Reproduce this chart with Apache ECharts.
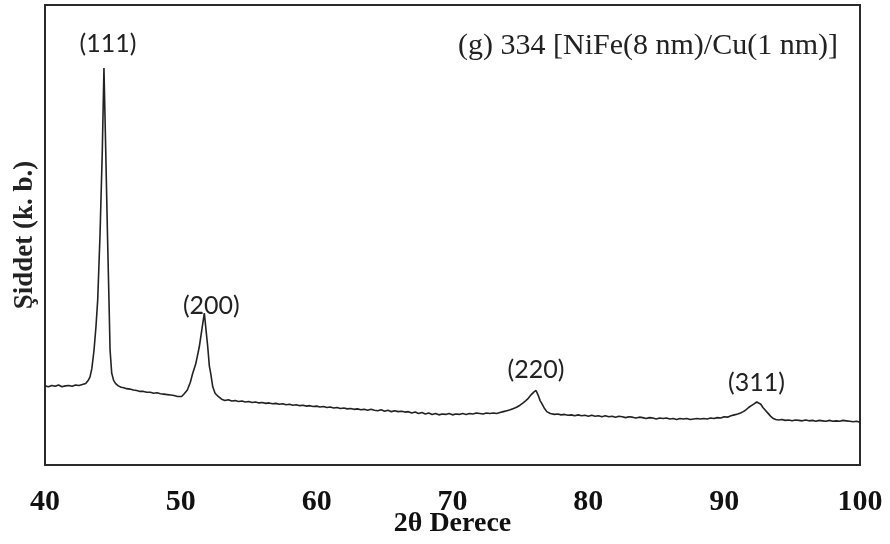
<!DOCTYPE html>
<html>
<head>
<meta charset="utf-8">
<script src="https://cdn.jsdelivr.net/npm/echarts@6/dist/echarts.min.js"></script>
<style>
  html, body { margin: 0; padding: 0; background: #fff; }
  #main { width: 890px; height: 544px; }
</style>
</head>
<body>
<div id="main"></div>
<script>
// 2theta (degrees) vs intensity (arbitrary units)
var xrdScan = [
    [40.0,17.2],[40.25,17.0],[40.5,17.3],[40.75,17.1],[41.0,17.4],[41.25,17.0],[41.5,17.2],[41.75,17.3],
    [42.0,17.1],[42.25,17.4],[42.5,17.3],[42.75,17.5],[43.0,17.7],[43.1,18.0],[43.2,18.5],[43.31,19.1],
    [43.45,21.0],[43.61,25.0],[43.75,30.0],[43.88,35.9],[44.05,50.0],[44.22,68.5],[44.34,86.3],[44.47,68.5],
    [44.6,50.0],[44.71,35.9],[44.79,25.0],[44.91,20.0],[45.05,18.4],[45.2,17.7],[45.4,17.2],[45.6,16.9],
    [45.8,16.8],[46.0,16.6],[46.25,16.5],[46.5,16.3],[46.75,16.2],[47.0,16.0],[47.25,16.0],[47.5,15.8],
    [47.75,15.8],[48.0,15.6],[48.25,15.7],[48.5,15.5],[48.75,15.4],[49.0,15.3],[49.25,15.2],[49.5,15.1],
    [49.75,14.9],[50.06,14.9],[50.25,15.5],[50.48,16.3],[50.7,18.0],[50.87,19.9],[51.1,22.0],[51.36,25.7],
    [51.55,29.5],[51.73,33.0],[51.85,29.5],[51.98,25.7],[52.1,21.5],[52.2,19.9],[52.35,17.0],[52.52,15.6],
    [52.75,14.9],[53.0,14.3],[53.25,14.0],[53.5,14.2],[53.75,13.9],[54.0,14.0],[54.25,13.8],[54.5,13.9],
    [54.75,13.7],[55.0,13.8],[55.25,13.6],[55.5,13.7],[55.75,13.5],[56.0,13.6],[56.25,13.4],[56.5,13.5],
    [56.75,13.3],[57.0,13.4],[57.25,13.2],[57.5,13.3],[57.75,13.1],[58.0,13.2],[58.25,13.0],[58.5,13.1],
    [58.75,12.9],[59.0,13.0],[59.25,12.8],[59.5,12.9],[59.75,12.7],[60.0,12.8],[60.25,12.6],[60.5,12.7],
    [60.75,12.5],[61.0,12.6],[61.25,12.4],[61.5,12.5],[61.75,12.3],[62.0,12.4],[62.25,12.2],[62.5,12.3],
    [62.75,12.1],[63.0,12.2],[63.25,12.0],[63.5,12.1],[63.75,11.9],[64.0,12.1],[64.25,11.9],[64.5,11.8],
    [64.75,12.0],[65.0,11.7],[65.25,11.9],[65.5,11.6],[65.75,11.8],[66.0,11.6],[66.25,11.7],[66.5,11.5],
    [66.75,11.6],[67.0,11.3],[67.25,11.5],[67.5,11.2],[67.75,11.4],[68.0,11.1],[68.25,11.3],[68.5,11.0],
    [68.75,11.2],[69.0,10.9],[69.25,11.1],[69.5,11.0],[69.75,11.2],[70.0,10.9],[70.25,11.1],[70.5,11.0],
    [70.75,11.2],[71.0,11.0],[71.25,11.2],[71.5,11.1],[71.75,11.3],[72.0,11.2],[72.25,11.1],[72.5,11.3],
    [72.75,11.2],[73.0,11.3],[73.25,11.2],[73.5,11.4],[73.75,11.6],[74.0,11.8],[74.25,12.0],[74.5,12.3],
    [74.75,12.6],[74.97,13.0],[75.2,13.5],[75.4,14.0],[75.58,14.5],[75.8,15.3],[76.0,15.9],[76.15,16.2],
    [76.3,15.2],[76.45,14.0],[76.57,13.4],[76.75,12.4],[76.94,11.6],[77.2,11.2],[77.5,11.0],[77.75,11.1],
    [78.0,10.9],[78.25,11.0],[78.5,10.8],[78.75,10.9],[79.0,10.7],[79.25,10.9],[79.5,10.7],[79.75,10.8],
    [80.0,10.6],[80.25,10.8],[80.5,10.6],[80.75,10.7],[81.0,10.5],[81.25,10.7],[81.5,10.5],[81.75,10.6],
    [82.0,10.4],[82.25,10.6],[82.5,10.5],[82.75,10.3],[83.0,10.5],[83.25,10.4],[83.5,10.2],[83.75,10.4],
    [84.0,10.3],[84.25,10.1],[84.5,10.3],[84.75,10.2],[85.0,10.0],[85.25,10.2],[85.5,10.1],[85.75,10.2],
    [86.0,10.0],[86.25,10.1],[86.5,9.9],[86.75,10.1],[87.0,10.0],[87.25,10.1],[87.5,9.9],[87.75,10.0],
    [88.0,10.1],[88.25,10.0],[88.5,10.1],[88.75,10.0],[89.0,10.2],[89.25,10.1],[89.5,10.3],[89.75,10.2],
    [90.0,10.5],[90.25,10.4],[90.5,10.7],[90.75,10.9],[91.0,11.1],[91.2,11.3],[91.41,11.6],[91.6,12.0],
    [91.8,12.5],[92.0,12.9],[92.2,13.3],[92.4,13.7],[92.53,13.8],[92.7,13.2],[92.85,12.5],[93.0,12.0],
    [93.13,11.6],[93.3,11.0],[93.45,10.5],[93.62,10.1],[93.8,9.9],[94.0,9.8],[94.25,9.9],[94.5,9.7],
    [94.75,9.8],[95.0,9.6],[95.25,9.8],[95.5,9.7],[95.75,9.6],[96.0,9.8],[96.25,9.6],[96.5,9.7],
    [96.75,9.5],[97.0,9.7],[97.25,9.6],[97.5,9.5],[97.75,9.7],[98.0,9.5],[98.25,9.6],[98.5,9.5],
    [98.75,9.7],[99.0,9.6],[99.1,10.0],[99.25,9.5],[99.5,9.4],[99.75,9.5],[100.0,9.3]
];

// reflections and where they sit on the 2theta scale
var peakNames = ['(111)', '(200)', '(220)', '(311)'];
var peakAngles = [44.34, 51.73, 76.15, 92.53];
var labelOffsets = [[4, -24], [7, -7], [0, -21], [-2, -19]];

var xTicks = [40, 50, 60, 70, 80, 90, 100];

function peakTop(angle) {
    var best = null;
    xrdScan.forEach(function (p) {
        if (Math.abs(p[0] - angle) < 0.5 && (!best || p[1] > best[1])) best = p;
    });
    return best;
}

var markData = peakNames.map(function (n, i) {
    return {
        name: n,
        coord: peakTop(peakAngles[i]),
        label: {offset: labelOffsets[i]}
    };
});

var myChart = echarts.init(document.getElementById('main'));

var option = {
    animation: false,
    backgroundColor: '#fff',
    title: {
        text: '(g) 334 [NiFe(8 nm)/Cu(1 nm)]',
        right: 47,
        top: 26,
        textStyle: {
            fontFamily: 'Liberation Serif',
            fontWeight: 'normal',
            fontSize: 30,
            color: '#222'
        }
    },
    grid: {
        left: 45,
        right: 30,
        top: 5,
        bottom: 79,
        outerBoundsMode: 'none',
        show: true,
        borderColor: '#2a2a2a',
        borderWidth: 2,
        backgroundColor: 'transparent'
    },
    xAxis: {
        type: 'value',
        min: 40,
        max: 100,
        interval: 10,
        name: '2θ Derece',
        nameLocation: 'middle',
        nameGap: 45,
        nameMoveOverlap: false,
        nameTextStyle: {
            fontFamily: 'Liberation Serif',
            fontWeight: 'bold',
            fontSize: 28,
            color: '#111'
        },
        axisLine: {show: false},
        axisTick: {show: false},
        splitLine: {show: false},
        axisLabel: {
            margin: 22,
            showMinLabel: true,
            showMaxLabel: true,
            fontFamily: 'Liberation Serif',
            fontWeight: 'bold',
            fontSize: 30,
            color: '#111',
            formatter: function (v) {
                return xTicks.indexOf(v) >= 0 ? String(v) : '';
            }
        }
    },
    yAxis: {
        type: 'value',
        min: 0,
        max: 100,
        name: 'Şiddet (k. b.)',
        nameLocation: 'middle',
        nameGap: 6,
        nameTextStyle: {
            fontFamily: 'Liberation Serif',
            fontWeight: 'bold',
            fontSize: 27,
            color: '#222'
        },
        axisLine: {show: false},
        axisTick: {show: false},
        axisLabel: {show: false},
        splitLine: {show: false}
    },
    series: [
        {
            type: 'line',
            data: xrdScan,
            showSymbol: false,
            symbol: 'none',
            lineStyle: {color: '#222', width: 1.6},
            markPoint: {
                symbol: 'rect',
                symbolSize: 1,
                itemStyle: {color: 'rgba(0,0,0,0)'},
                label: {
                    show: true,
                    formatter: '{b}',
                    fontFamily: 'Lato',
                    fontSize: 25,
                    color: '#222'
                },
                data: markData
            }
        }
    ]
};

myChart.setOption(option);
</script>
</body>
</html>
